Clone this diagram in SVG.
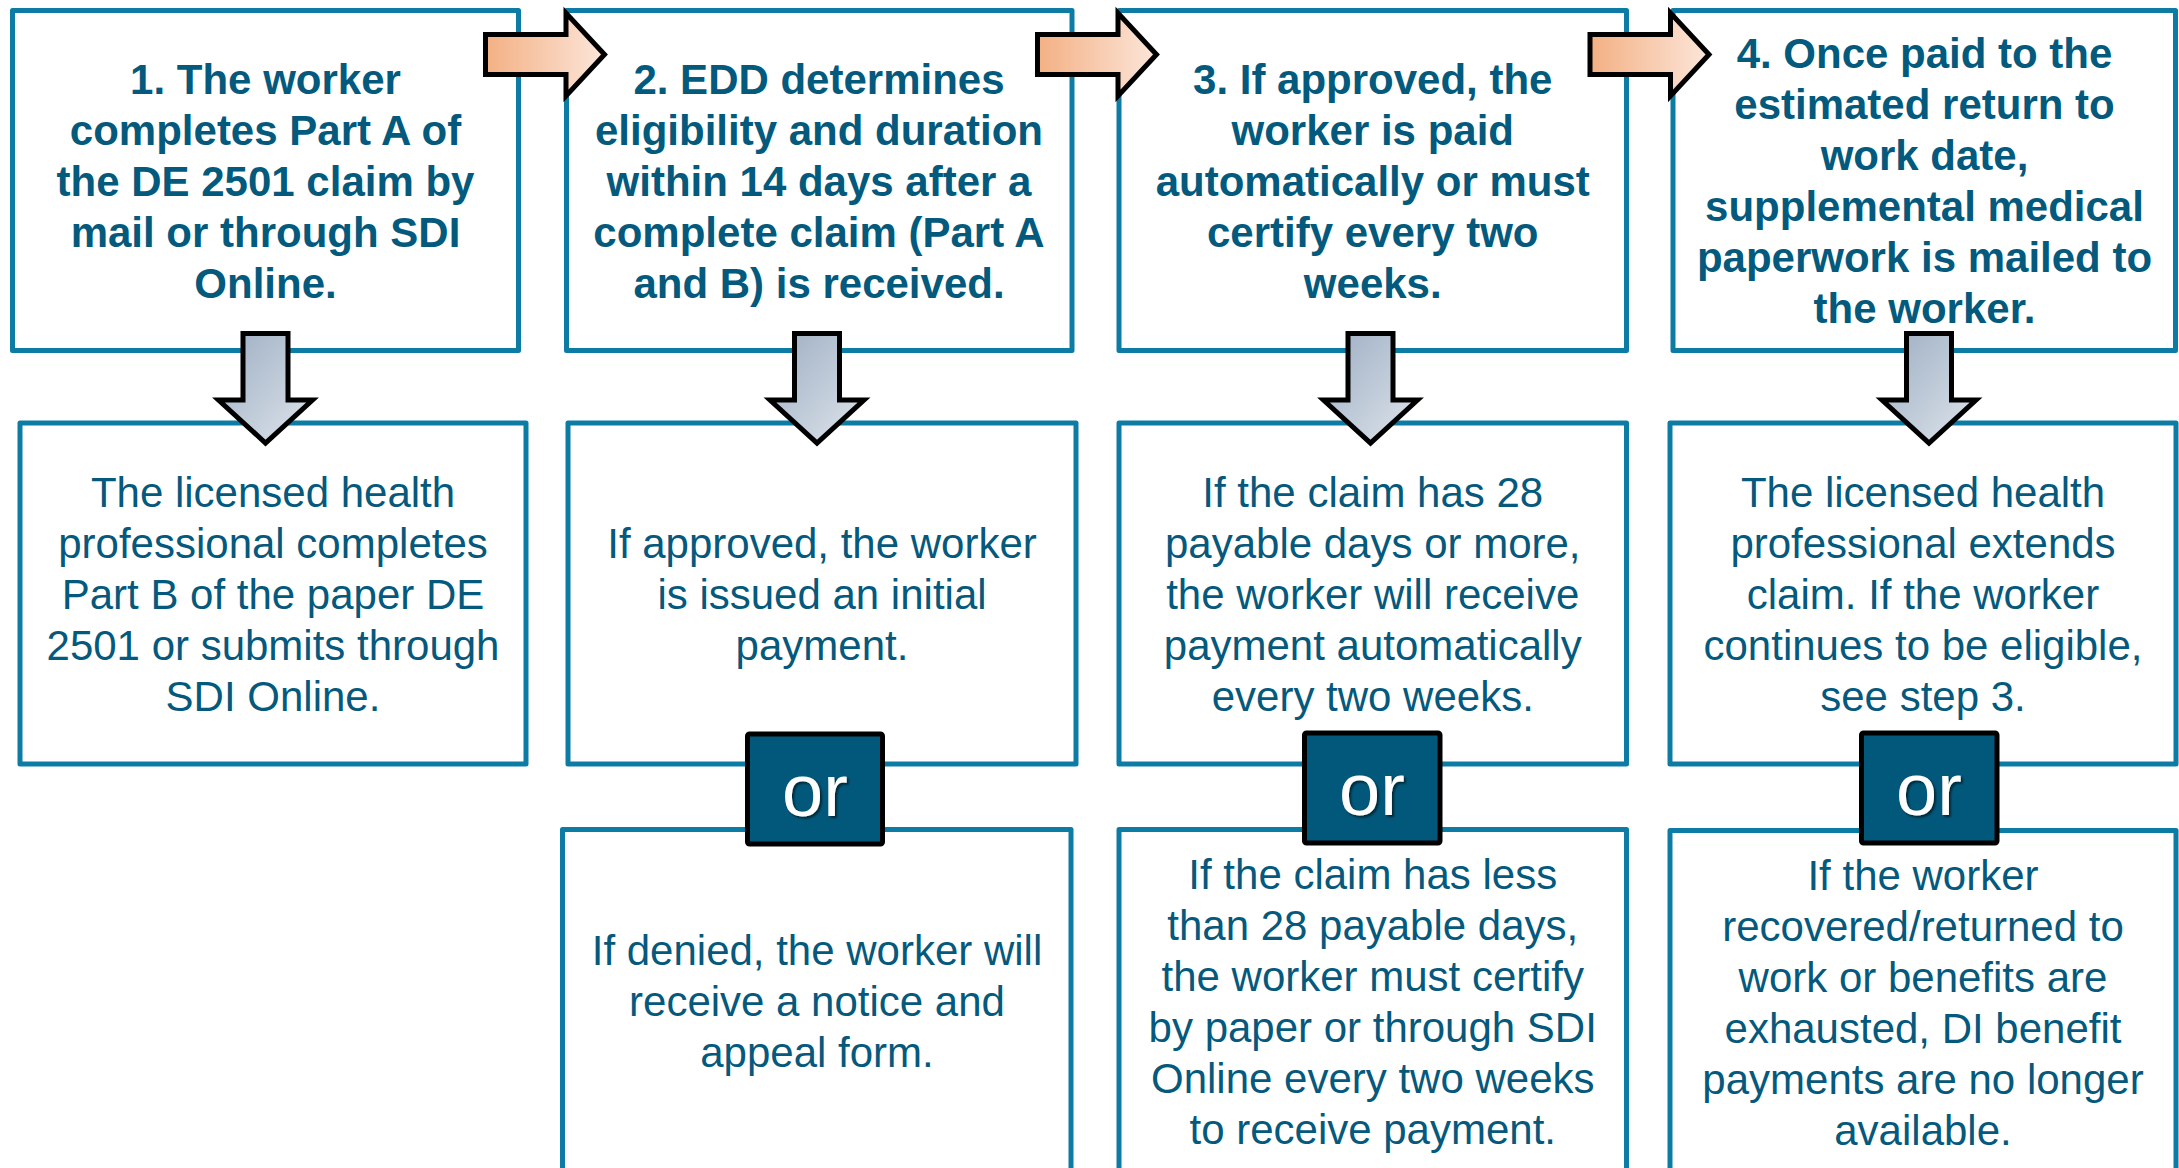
<svg xmlns="http://www.w3.org/2000/svg" width="2179" height="1168" viewBox="0 0 2179 1168">
<style>
.box{fill:#ffffff;stroke:#0c7ca5;stroke-width:5;stroke-linejoin:round}
.ttl{font-family:"Liberation Sans",Arial,sans-serif;font-weight:bold;font-size:42px;fill:#045a7d;text-anchor:middle}
.txt{font-family:"Liberation Sans",Arial,sans-serif;font-size:42px;fill:#05597c;text-anchor:middle}
.orbox{fill:#02587a;stroke:#000000;stroke-width:5;stroke-linejoin:round}
.ortxt{font-family:"Liberation Sans",Arial,sans-serif;font-size:74px;fill:#ffffff;text-anchor:middle}
.rarrow{fill:url(#gOrange);stroke:#000000;stroke-width:5;stroke-linejoin:miter}
.darrow{fill:url(#gGrey);stroke:#000000;stroke-width:5;stroke-linejoin:miter}
</style>
<defs>
<linearGradient id="gOrange" x1="0" y1="0" x2="1" y2="0">
<stop offset="0" stop-color="#f3b083"/>
<stop offset="1" stop-color="#fce6da"/>
</linearGradient>
<linearGradient id="gGrey" x1="0" y1="0" x2="1" y2="1">
<stop offset="0" stop-color="#9cadc2"/>
<stop offset="1" stop-color="#dfe5ec"/>
</linearGradient>
<filter id="sh" x="-20%" y="-20%" width="140%" height="140%">
<feDropShadow dx="2" dy="2" stdDeviation="1.2" flood-color="#000000" flood-opacity="0.55"/>
</filter>
</defs>
<rect width="2179" height="1168" fill="#ffffff"/>

<g id="step1">
<rect class="box" x="12.5" y="10.5" width="506" height="340"/>
<text class="ttl"><tspan x="265.5" y="94">1. The worker</tspan><tspan x="265.5" y="145">completes Part A of</tspan><tspan x="265.5" y="196">the DE 2501 claim by</tspan><tspan x="265.5" y="247">mail or through SDI</tspan><tspan x="265.5" y="298">Online.</tspan></text>
</g>
<g id="step2">
<rect class="box" x="566.5" y="10.5" width="505.5" height="340"/>
<text class="ttl"><tspan x="819" y="94">2. EDD determines</tspan><tspan x="819" y="145">eligibility and duration</tspan><tspan x="819" y="196">within 14 days after a</tspan><tspan x="819" y="247">complete claim (Part A</tspan><tspan x="819" y="298">and B) is received.</tspan></text>
</g>
<g id="step3">
<rect class="box" x="1119" y="10.5" width="507.5" height="340"/>
<text class="ttl"><tspan x="1372.75" y="94">3. If approved, the</tspan><tspan x="1372.75" y="145">worker is paid</tspan><tspan x="1372.75" y="196">automatically or must</tspan><tspan x="1372.75" y="247">certify every two</tspan><tspan x="1372.75" y="298">weeks.</tspan></text>
</g>
<g id="step4">
<rect class="box" x="1673" y="10.5" width="502.5" height="340"/>
<text class="ttl"><tspan x="1924.5" y="68">4. Once paid to the</tspan><tspan x="1924.5" y="119">estimated return to</tspan><tspan x="1924.5" y="170">work date,</tspan><tspan x="1924.5" y="221">supplemental medical</tspan><tspan x="1924.5" y="272">paperwork is mailed to</tspan><tspan x="1924.5" y="323">the worker.</tspan></text>
</g>

<g id="result1">
<rect class="box" x="20" y="423" width="506" height="341"/>
<text class="txt"><tspan x="273" y="507">The licensed health</tspan><tspan x="273" y="558">professional completes</tspan><tspan x="273" y="609">Part B of the paper DE</tspan><tspan x="273" y="660">2501 or submits through</tspan><tspan x="273" y="711">SDI Online.</tspan></text>
</g>
<g id="result2a">
<rect class="box" x="568" y="423" width="508" height="341"/>
<text class="txt"><tspan x="822" y="557.5">If approved, the worker</tspan><tspan x="822" y="608.5">is issued an initial</tspan><tspan x="822" y="659.5">payment.</tspan></text>
</g>
<g id="result3a">
<rect class="box" x="1119" y="423" width="507.5" height="341"/>
<text class="txt"><tspan x="1372.75" y="507">If the claim has 28</tspan><tspan x="1372.75" y="558">payable days or more,</tspan><tspan x="1372.75" y="609">the worker will receive</tspan><tspan x="1372.75" y="660">payment automatically</tspan><tspan x="1372.75" y="711">every two weeks.</tspan></text>
</g>
<g id="result4a">
<rect class="box" x="1670" y="423" width="506" height="341"/>
<text class="txt"><tspan x="1923" y="507">The licensed health</tspan><tspan x="1923" y="558">professional extends</tspan><tspan x="1923" y="609">claim. If the worker</tspan><tspan x="1923" y="660">continues to be eligible,</tspan><tspan x="1923" y="711">see step 3.</tspan></text>
</g>

<g id="result2b">
<rect class="box" x="562.5" y="829.5" width="508.5" height="344"/>
<text class="txt"><tspan x="817" y="965">If denied, the worker will</tspan><tspan x="817" y="1016">receive a notice and</tspan><tspan x="817" y="1067">appeal form.</tspan></text>
</g>
<g id="result3b">
<rect class="box" x="1119" y="829.5" width="507.5" height="344"/>
<text class="txt"><tspan x="1372.75" y="888.5">If the claim has less</tspan><tspan x="1372.75" y="939.5">than 28 payable days,</tspan><tspan x="1372.75" y="990.5">the worker must certify</tspan><tspan x="1372.75" y="1041.5">by paper or through SDI</tspan><tspan x="1372.75" y="1092.5">Online every two weeks</tspan><tspan x="1372.75" y="1143.5">to receive payment.</tspan></text>
</g>
<g id="result4b">
<rect class="box" x="1670" y="830.5" width="506" height="344"/>
<text class="txt"><tspan x="1923" y="889.5">If the worker</tspan><tspan x="1923" y="940.5">recovered/returned to</tspan><tspan x="1923" y="991.5">work or benefits are</tspan><tspan x="1923" y="1042.5">exhausted, DI benefit</tspan><tspan x="1923" y="1093.5">payments are no longer</tspan><tspan x="1923" y="1144.5">available.</tspan></text>
</g>

<g id="connectors">
<path class="rarrow" d="M485.5,34.5 H566 V13 L604.5,54.5 L566,96 V74.5 H485.5 Z"/>
<path class="rarrow" d="M1037.5,34.5 H1118 V13 L1156.5,54.5 L1118,96 V74.5 H1037.5 Z"/>
<path class="rarrow" d="M1590,34.5 H1670.5 V13 L1709,54.5 L1670.5,96 V74.5 H1590 Z"/>
<path class="darrow" d="M243,333.5 H288 V400 H312.5 L265.5,443 L218.5,400 H243 Z"/>
<path class="darrow" d="M794.5,333.5 H839.5 V400 H864 L817,443 L770,400 H794.5 Z"/>
<path class="darrow" d="M1348,333.5 H1393 V400 H1417.5 L1370.5,443 L1323.5,400 H1348 Z"/>
<path class="darrow" d="M1906.5,333.5 H1951.5 V400 H1976 L1929,443 L1882,400 H1906.5 Z"/>
</g>

<g id="or2">
<rect class="orbox" x="747.5" y="734" width="135" height="110" rx="2"/>
<text class="ortxt" x="815" y="816" filter="url(#sh)">or</text>
</g>
<g id="or3">
<rect class="orbox" x="1304.5" y="733" width="135.5" height="110" rx="2"/>
<text class="ortxt" x="1372" y="815" filter="url(#sh)">or</text>
</g>
<g id="or4">
<rect class="orbox" x="1861.5" y="733" width="135.5" height="110" rx="2"/>
<text class="ortxt" x="1929" y="815" filter="url(#sh)">or</text>
</g>
</svg>
